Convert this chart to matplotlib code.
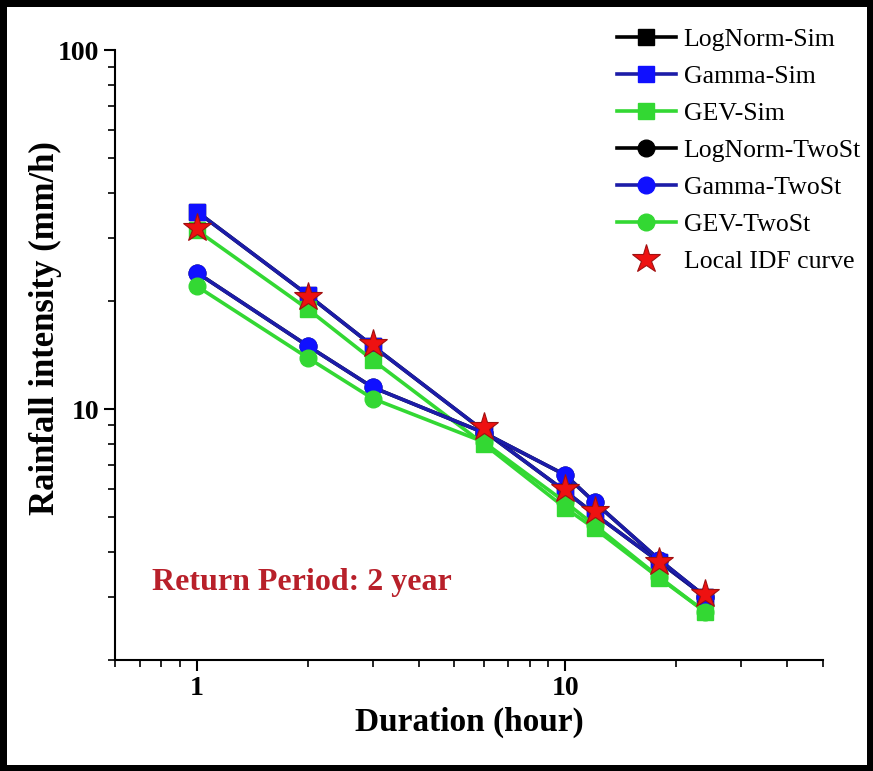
import matplotlib.pyplot as plt
from matplotlib.ticker import LogLocator, NullFormatter, FixedLocator, FixedFormatter

# Durations (hour) and rainfall intensities (mm/h), 2-year return period
duration = [1, 2, 3, 6, 10, 12, 18, 24]

lognorm_sim = [35.5, 20.8, 15.0, 8.7, 5.9, 5.1, 3.75, 3.0]
gamma_sim = [35.5, 20.8, 15.0, 8.7, 5.9, 5.1, 3.75, 3.0]
gev_sim = [31.5, 19.0, 13.7, 8.0, 5.3, 4.65, 3.38, 2.72]

lognorm_twost = [24.0, 15.0, 11.5, 8.6, 6.55, 5.5, 3.8, 3.0]
gamma_twost = [24.0, 15.0, 11.5, 8.6, 6.55, 5.5, 3.8, 3.0]
gev_twost = [22.0, 13.9, 10.7, 8.1, 5.5, 4.75, 3.4, 2.72]

local_idf = [32.0, 20.5, 15.2, 8.9, 6.0, 5.2, 3.76, 3.06]

plt.rcParams['font.family'] = ['Liberation Serif', 'DejaVu Serif']

fig = plt.figure(figsize=(8.73, 7.71), dpi=100, edgecolor='black', linewidth=9)
ax = fig.add_axes([0.1317, 0.144, 0.811, 0.791])

blue = '#1c1ca8'
green = '#33d833'
lw = 2.6

ax.plot(duration, lognorm_sim, color='black', marker='s', ms=11, lw=lw, label='LogNorm-Sim')
ax.plot(duration, gamma_sim, color=blue, marker='s', ms=11, mfc='#1010ff', mec='#1010ff', lw=lw, label='Gamma-Sim')
ax.plot(duration, gev_sim, color=green, marker='s', ms=11, lw=lw, label='GEV-Sim')
ax.plot(duration, lognorm_twost, color='black', marker='o', ms=12, lw=lw, label='LogNorm-TwoSt')
ax.plot(duration, gamma_twost, color=blue, marker='o', ms=12, mfc='#1010ff', mec='#1010ff', lw=lw, label='Gamma-TwoSt')
ax.plot(duration, gev_twost, color=green, marker='o', ms=12, lw=lw, label='GEV-TwoSt')
ax.plot(duration, local_idf, ls='none', marker='*', ms=21, color='#ee1111',
        mec='#a01010', mew=0.8, label='Local IDF curve')

ax.set_xscale('log')
ax.set_yscale('log')
ax.set_xlim(0.6, 50)
ax.set_ylim(2, 100)

# spines: only left and bottom
ax.spines['top'].set_visible(False)
ax.spines['right'].set_visible(False)
ax.spines['left'].set_linewidth(1.5)
ax.spines['bottom'].set_linewidth(1.5)

ax.xaxis.set_major_locator(FixedLocator([1, 10]))
ax.xaxis.set_major_formatter(FixedFormatter(['1', '10']))
ax.yaxis.set_major_locator(FixedLocator([10, 100]))
ax.yaxis.set_major_formatter(FixedFormatter(['10', '100']))
ax.xaxis.set_minor_locator(LogLocator(base=10, subs=range(2, 10)))
ax.yaxis.set_minor_locator(LogLocator(base=10, subs=range(2, 10)))
ax.xaxis.set_minor_formatter(NullFormatter())
ax.yaxis.set_minor_formatter(NullFormatter())
ax.tick_params(which='major', length=8, width=1.5, labelsize=20)
ax.tick_params(which='minor', length=5, width=1.2)
for lab in ax.get_xticklabels() + ax.get_yticklabels():
    lab.set_fontweight('bold')

ax.set_xlabel('Duration (hour)', fontsize=24, fontweight='bold', labelpad=4)
ax.set_ylabel('Rainfall intensity (mm/h)', fontsize=25, fontweight='bold')
ax.yaxis.set_label_coords(-0.075, 0.544)

ax.text(0.052, 0.115, 'Return Period: 2 year', transform=ax.transAxes,
        fontsize=23, fontweight='bold', color='#b8202a')

fig.legend(loc='upper right', bbox_to_anchor=(0.998, 0.977), frameon=False,
           fontsize=18.5, numpoints=1, handlelength=2.3, labelspacing=0.545,
           handletextpad=0.3, borderaxespad=0)

plt.savefig('out.png', dpi=100, edgecolor=fig.get_edgecolor())
